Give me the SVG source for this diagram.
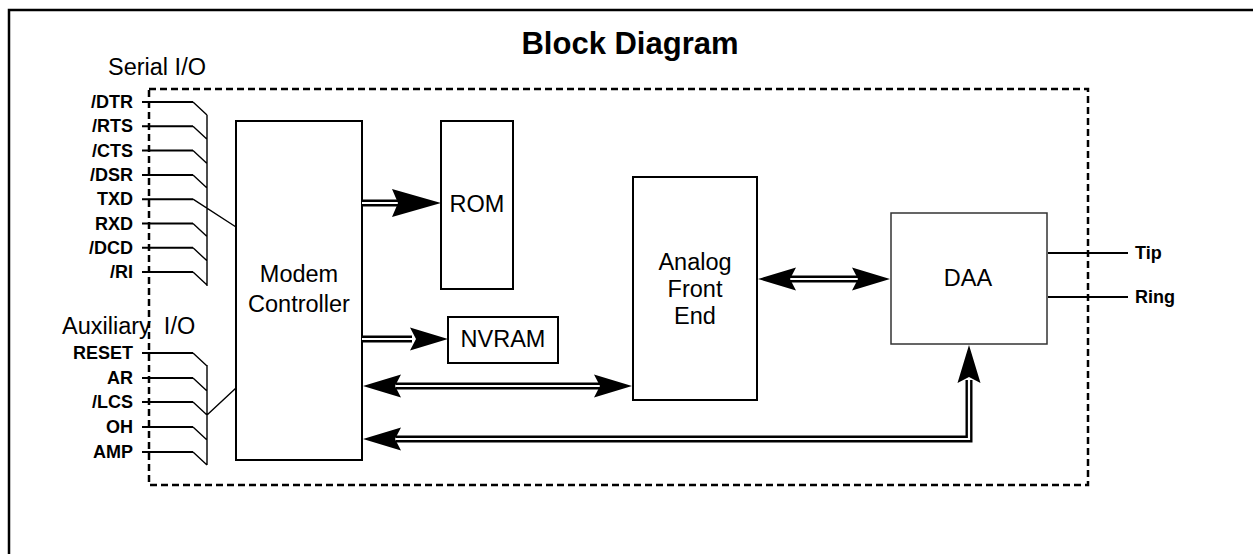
<svg xmlns="http://www.w3.org/2000/svg" width="1253" height="554" viewBox="0 0 1253 554">
<style>
.frame{fill:none;stroke:#000;stroke-width:2.5}
.dash{fill:none;stroke:#000;stroke-width:2.5;stroke-dasharray:7 4}
.box{fill:#fff;stroke:#000;stroke-width:2}
.daa{fill:#fff;stroke:#333;stroke-width:1.5}
.sig{fill:none;stroke:#000;stroke-width:2}
.thin{fill:none;stroke:#000;stroke-width:1.4}
.dblo{fill:none;stroke:#000;stroke-width:7}
.dbli{fill:none;stroke:#fff;stroke-width:2.2}
.head{fill:#000;stroke:none}
.t{font-family:"Liberation Sans",Arial,sans-serif;font-size:23.5px;fill:#000}
.b{font-family:"Liberation Sans",Arial,sans-serif;font-size:18px;font-weight:bold;fill:#000}
.title{font-family:"Liberation Sans",Arial,sans-serif;font-size:31px;font-weight:bold;fill:#000}
</style>
<defs>
<path id="hA" d="M0,0 L-49,-14 L-43,0 L-49,14 Z"/>
<path id="hB" d="M0,0 L-38,-11.5 L-32,0 L-38,11.5 Z"/>
</defs>
<rect width="1253" height="554" fill="#fff"/>
<rect class="frame" x="9" y="10" width="1270" height="570"/>
<text class="title" x="630" y="54" text-anchor="middle">Block Diagram</text>
<rect class="dash" x="149" y="89" width="939" height="396"/>
<text class="t" x="108" y="75">Serial I/O</text>
<text class="t" x="62" y="334" xml:space="preserve">Auxiliary  I/O</text>

<g id="serial-io">
<text class="b" x="133" y="108" text-anchor="end">/DTR</text>
<text class="b" x="133" y="132" text-anchor="end">/RTS</text>
<text class="b" x="133" y="157" text-anchor="end">/CTS</text>
<text class="b" x="133" y="181" text-anchor="end">/DSR</text>
<text class="b" x="133" y="205" text-anchor="end">TXD</text>
<text class="b" x="133" y="230" text-anchor="end">RXD</text>
<text class="b" x="133" y="254" text-anchor="end">/DCD</text>
<text class="b" x="133" y="278" text-anchor="end">/RI</text>
<path class="sig" d="M142,102H193M142,126.3H193M142,150.6H193M142,174.9H193M142,199.2H193M142,223.5H193M142,247.8H193M142,272.1H193"/>
<path class="thin" d="M193,102L207,115M193,126.3L207,139.3M193,150.6L207,163.6M193,174.9L207,187.9M193,223.5L207,236.5M193,247.8L207,260.8M193,272.1L207,285.1M193,199.2L236,227M207,115V286"/>
</g>

<g id="aux-io">
<text class="b" x="133" y="359" text-anchor="end">RESET</text>
<text class="b" x="133" y="384" text-anchor="end">AR</text>
<text class="b" x="133" y="408" text-anchor="end">/LCS</text>
<text class="b" x="133" y="433" text-anchor="end">OH</text>
<text class="b" x="133" y="458" text-anchor="end">AMP</text>
<path class="sig" d="M142,353H193M142,378H193M142,402H193M142,427H193M142,452H193"/>
<path class="thin" d="M193,353L207,366M193,378L207,391M193,402L207,415M193,427L207,440M193,452L207,465M207,365V465M207,415L236,388"/>
</g>

<g id="modem-controller">
<rect class="box" x="236" y="121" width="126" height="339"/>
<text class="t" x="299" y="282" text-anchor="middle">Modem</text>
<text class="t" x="299" y="312" text-anchor="middle">Controller</text>
</g>
<g id="rom">
<rect class="box" x="441" y="121" width="72" height="168"/>
<text class="t" x="477" y="212" text-anchor="middle">ROM</text>
</g>
<g id="nvram">
<rect class="box" x="448" y="317" width="110" height="46"/>
<text class="t" x="503" y="347" text-anchor="middle">NVRAM</text>
</g>
<g id="afe">
<rect class="box" x="633" y="177" width="124" height="223"/>
<text class="t" x="695" y="270" text-anchor="middle">Analog</text>
<text class="t" x="695" y="297" text-anchor="middle">Front</text>
<text class="t" x="695" y="324" text-anchor="middle">End</text>
</g>
<g id="daa">
<rect class="daa" x="891" y="213" width="156" height="131"/>
<text class="t" x="968" y="286" text-anchor="middle">DAA</text>
</g>
<g id="line-io">
<path class="sig" d="M1048,253H1128M1048,297H1128"/>
<text class="b" x="1135" y="259">Tip</text>
<text class="b" x="1135" y="303">Ring</text>
</g>

<g id="connectors">
<path class="dblo" d="M362,203H400M362,339H412M396,386H600M790,279H858M969,380V439H396"/>
<path class="dbli" d="M362,203H400M362,339H412M396,386H600M790,279H858M969,380V439H396"/>
<use href="#hA" transform="translate(441,203)"/>
<use href="#hB" transform="translate(448,339)"/>
<use href="#hB" transform="translate(363,386) rotate(180)"/>
<use href="#hB" transform="translate(632,386)"/>
<use href="#hB" transform="translate(758,279) rotate(180)"/>
<use href="#hB" transform="translate(890,279)"/>
<use href="#hB" transform="translate(969,345) rotate(-90)"/>
<use href="#hB" transform="translate(363,439) rotate(180)"/>
</g>
</svg>
